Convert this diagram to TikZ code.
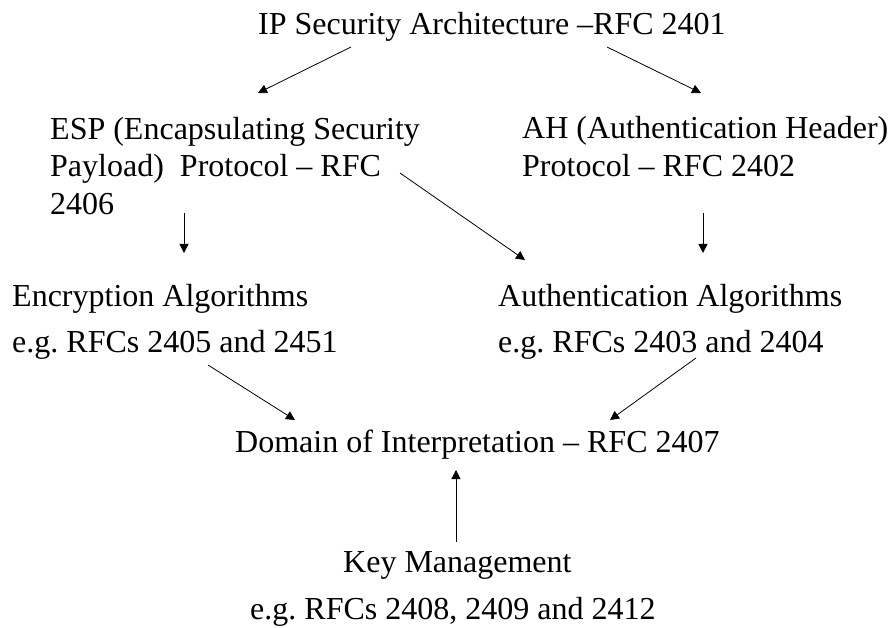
\documentclass[tikz,border=0pt]{standalone}
\usepackage{fontspec}
\setmainfont{Liberation Serif}
\usetikzlibrary{arrows.meta}
\begin{document}
\frenchspacing
\begin{tikzpicture}[x=1pt,y=-1pt,
  lbl/.style={inner sep=0pt, anchor=base west, font=\fontsize{32}{38}\selectfont},
  arr/.style={draw, line width=0.8pt, -{Triangle[length=9pt,width=9pt]}}]
\useasboundingbox (0,0) rectangle (891,628);
% top level
\node[lbl] (ipsec) at (258,35) {IP Security Architecture –RFC 2401};
% protocols
\node[lbl] (esp1) at (50,140) {ESP (Encapsulating Security};
\node[lbl] (esp2) at (50,177) {Payload)\ \ Protocol – RFC};
\node[lbl] (esp3) at (50,215) {2406};
\node[lbl] (ah1) at (522,139) {AH (Authentication Header)};
\node[lbl] (ah2) at (522,177) {Protocol – RFC 2402};
% algorithms
\node[lbl] (enc1) at (12,306) {Encryption Algorithms};
\node[lbl] (enc2) at (12,352) {e.g. RFCs 2405 and 2451};
\node[lbl] (auth1) at (498,306) {Authentication Algorithms};
\node[lbl] (auth2) at (498,352) {e.g. RFCs 2403 and 2404};
% domain of interpretation and key management
\node[lbl] (doi) at (235,452) {Domain of Interpretation – RFC 2407};
\node[lbl] (key1) at (343,572) {Key Management};
\node[lbl] (key2) at (250,619) {e.g. RFCs 2408, 2409 and 2412};
% arrow end points
\coordinate (a1s) at (351,47);  \coordinate (a1e) at (258,93);
\coordinate (a2s) at (607,47);  \coordinate (a2e) at (701,93);
\coordinate (a3s) at (184,213); \coordinate (a3e) at (184,253);
\coordinate (a4s) at (703,213); \coordinate (a4e) at (703,253);
\coordinate (a5s) at (400,173); \coordinate (a5e) at (525,260);
\coordinate (a6s) at (208,365); \coordinate (a6e) at (295,420);
\coordinate (a7s) at (696,358); \coordinate (a7e) at (610,420);
\coordinate (a8s) at (456,542); \coordinate (a8e) at (456,470);
% connectors
\draw[arr] (a1s) -- (a1e);
\draw[arr] (a2s) -- (a2e);
\draw[arr] (a3s) -- (a3e);
\draw[arr] (a4s) -- (a4e);
\draw[arr] (a5s) -- (a5e);
\draw[arr] (a6s) -- (a6e);
\draw[arr] (a7s) -- (a7e);
\draw[arr] (a8s) -- (a8e);
\end{tikzpicture}
\end{document}
